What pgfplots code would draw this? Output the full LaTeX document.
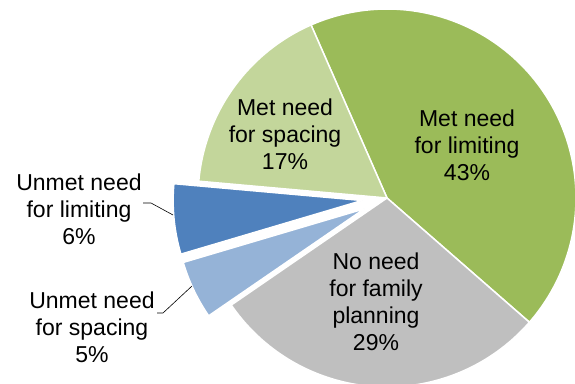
\documentclass[border=0pt]{standalone}
\usepackage{pgfplots}
\pgfplotsset{compat=1.18}
\usepackage{pgfplotstable}
\usepackage{fontspec}
\setmainfont{Liberation Sans}
\definecolor{metlim}{HTML}{9BBB59}
\definecolor{metspa}{HTML}{C3D69B}
\definecolor{noneed}{HTML}{BFBFBF}
\definecolor{unlim}{HTML}{4F81BD}
\definecolor{unspa}{HTML}{95B3D7}
\pgfplotstableread{
slice pct
MetLimiting 43
NoNeed 29
UnmetSpacing 5
UnmetLimiting 6
MetSpacing 17
}\piedata
\begin{document}
\begin{tikzpicture}
\pgfplotstablegetelem{0}{pct}\of\piedata \pgfmathsetmacro{\pA}{\pgfplotsretval}
\pgfplotstablegetelem{1}{pct}\of\piedata \pgfmathsetmacro{\pB}{\pgfplotsretval}
\pgfplotstablegetelem{2}{pct}\of\piedata \pgfmathsetmacro{\pC}{\pgfplotsretval}
\pgfplotstablegetelem{3}{pct}\of\piedata \pgfmathsetmacro{\pD}{\pgfplotsretval}
\pgfplotstablegetelem{4}{pct}\of\piedata \pgfmathsetmacro{\pE}{\pgfplotsretval}
\pgfmathsetmacro{\cx}{387}
\pgfmathsetmacro{\cy}{185}
\pgfmathsetmacro{\r}{189}
\pgfmathsetmacro{\tA}{113.7}
\pgfmathsetmacro{\tB}{\tA-3.6*\pA}
\pgfmathsetmacro{\tC}{\tB-3.6*\pB}
\pgfmathsetmacro{\tD}{\tC-3.6*\pC}
\pgfmathsetmacro{\tE}{\tD-3.6*\pD}
\pgfmathsetmacro{\tF}{\tE-3.6*\pE}
\pgfmathsetmacro{\cxC}{\cx+25*cos((\tC+\tD)/2)}
\pgfmathsetmacro{\cyC}{\cy+25*sin((\tC+\tD)/2)}
\pgfmathsetmacro{\cxD}{\cx+25*cos((\tD+\tE)/2)}
\pgfmathsetmacro{\cyD}{\cy+25*sin((\tD+\tE)/2)}
\begin{axis}[at={(0,0)}, anchor=south west, width=575pt, height=383pt,
  scale only axis, xmin=0, xmax=575, ymin=0, ymax=383, hide axis, clip=true]
\addplot[fill=metlim, draw=white, line width=1.5pt, line join=round, domain=\tB:\tA, samples=100]
  ({\cx+\r*cos(x)},{\cy+\r*sin(x)}) -- (axis cs:\cx,\cy) -- cycle;
\addplot[fill=noneed, draw=white, line width=1.5pt, line join=round, domain=\tC:\tB, samples=80]
  ({\cx+\r*cos(x)},{\cy+\r*sin(x)}) -- (axis cs:\cx,\cy) -- cycle;
\addplot[fill=unspa, draw=white, line width=1.5pt, line join=round, domain=\tD:\tC, samples=30]
  ({\cxC+\r*cos(x)},{\cyC+\r*sin(x)}) -- (axis cs:\cxC,\cyC) -- cycle;
\addplot[fill=unlim, draw=white, line width=1.5pt, line join=round, domain=\tE:\tD, samples=30]
  ({\cxD+\r*cos(x)},{\cyD+\r*sin(x)}) -- (axis cs:\cxD,\cyD) -- cycle;
\addplot[fill=metspa, draw=white, line width=1.5pt, line join=round, domain=\tF:\tE, samples=60]
  ({\cx+\r*cos(x)},{\cy+\r*sin(x)}) -- (axis cs:\cx,\cy) -- cycle;
\draw[black, line width=0.6pt] (axis cs:143,180) -- (axis cs:151,180) -- (axis cs:173,168);
\draw[black, line width=0.6pt] (axis cs:157,70) -- (axis cs:163,70) -- (axis cs:192,97);
\tikzset{lab/.style={align=center, font=\fontsize{23}{27}\selectfont, inner sep=0pt}}
\node[lab] at (axis cs:467,237.3) {Met need\\for limiting\\43\%};
\node[lab] at (axis cs:285,248.3) {Met need\\for spacing\\17\%};
\node[lab] at (axis cs:376,81) {No need\\for family\\planning\\29\%};
\node[lab] at (axis cs:79,173.3) {Unmet need\\for limiting\\6\%};
\node[lab] at (axis cs:92,56) {Unmet need\\for spacing\\5\%};
\end{axis}
\pgfresetboundingbox
\useasboundingbox (0,0) rectangle (575pt,383pt);
\end{tikzpicture}
\end{document}
